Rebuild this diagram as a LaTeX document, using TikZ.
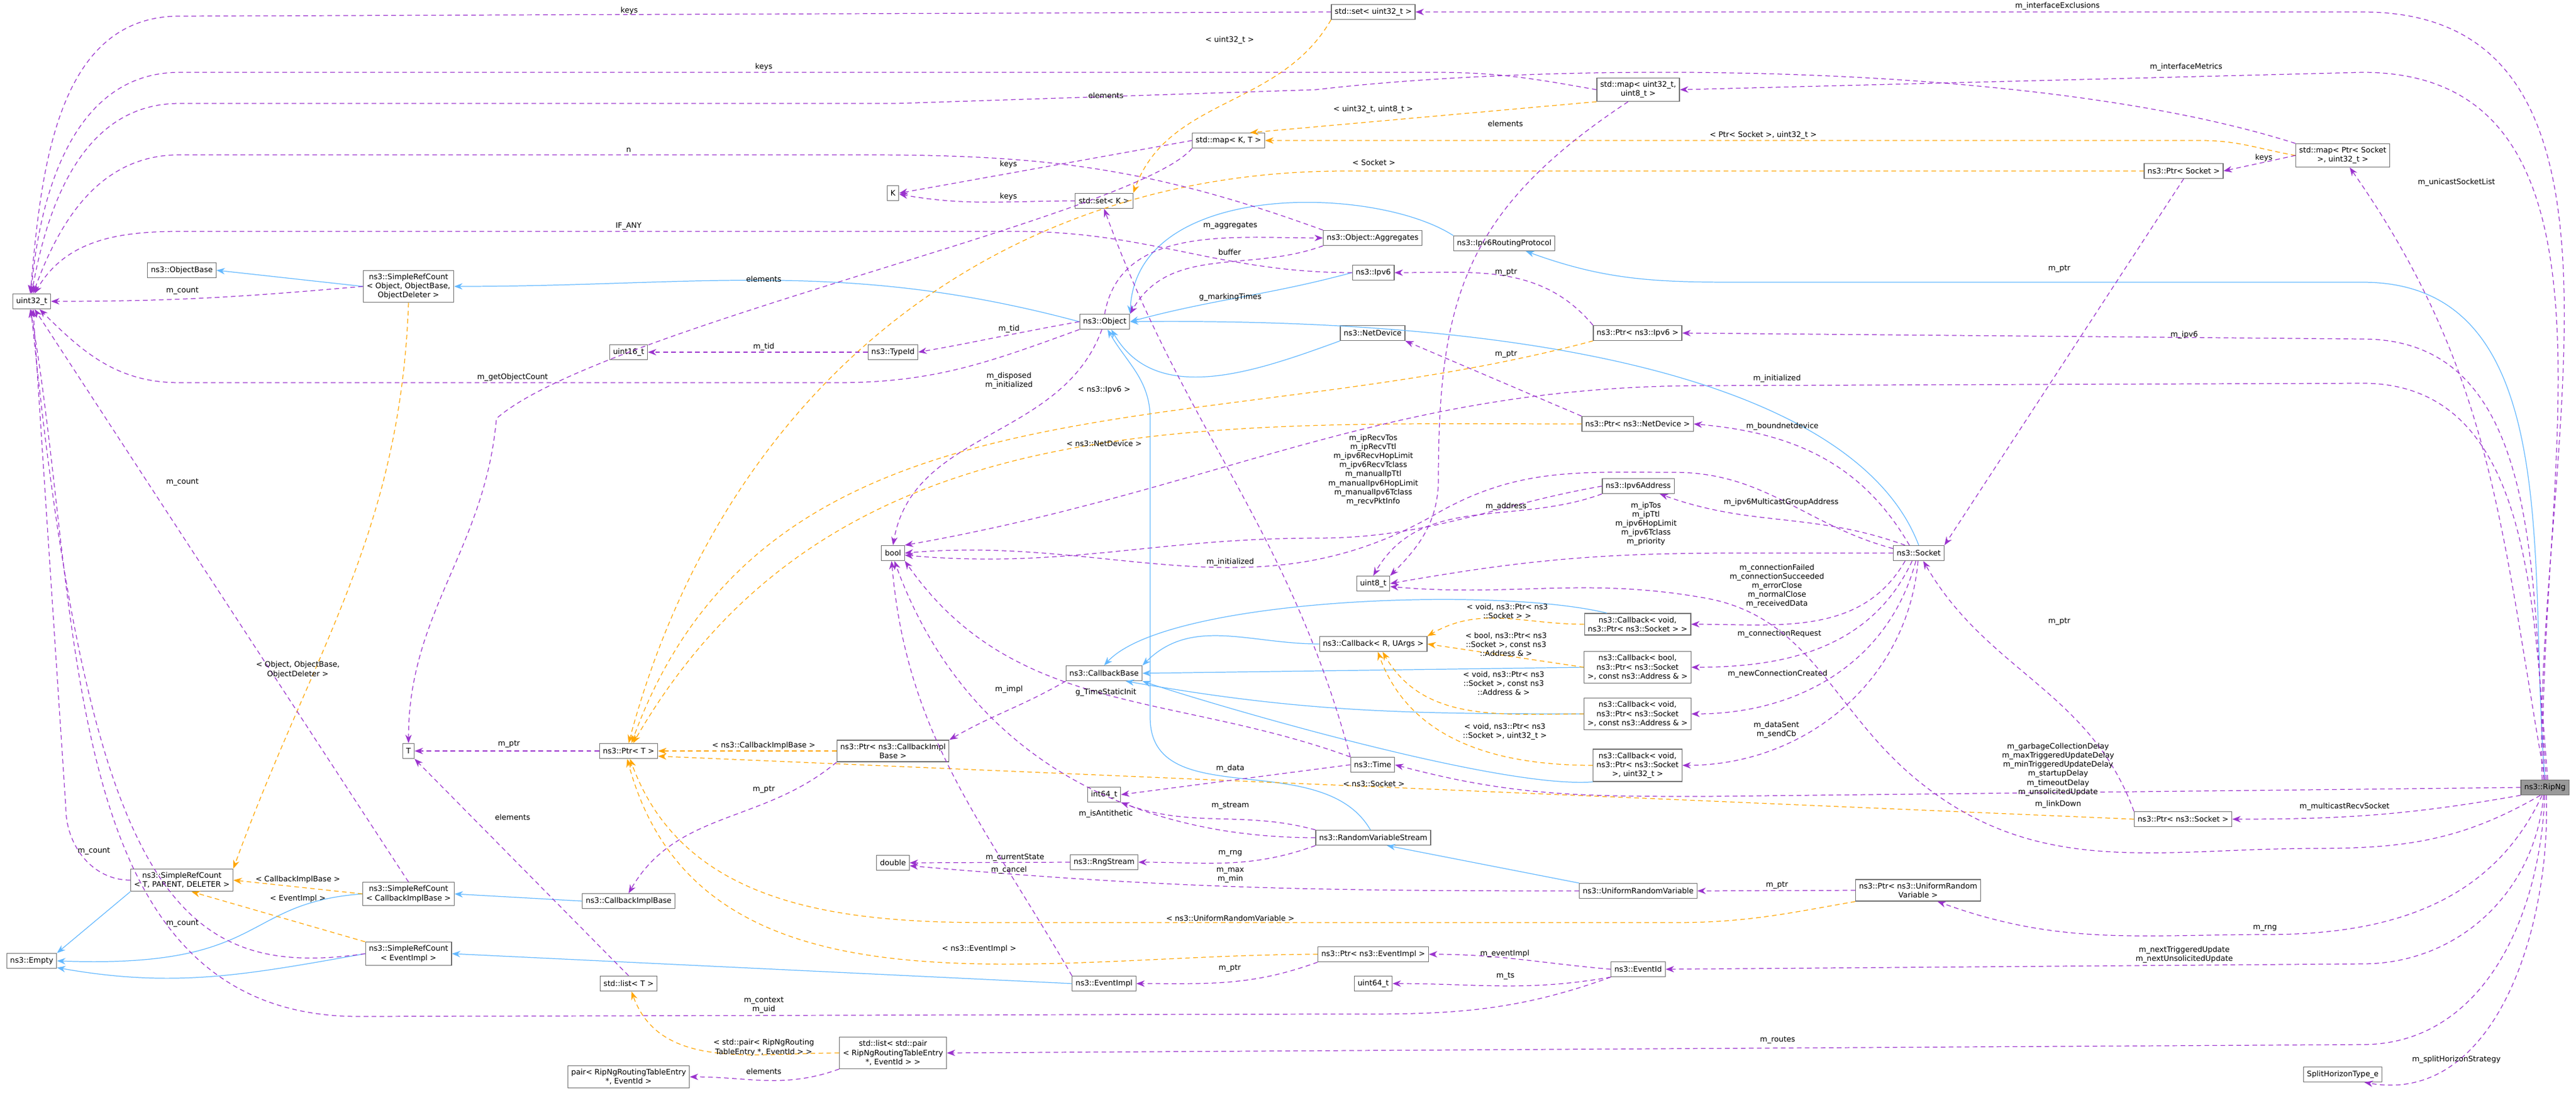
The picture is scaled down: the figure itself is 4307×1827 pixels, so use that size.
\documentclass[tikz,border=0pt]{standalone}
\usepackage{fontspec}
\setmainfont{DejaVu Sans}
\usetikzlibrary{arrows.meta}
\definecolor{purp}{RGB}{154,50,205}
\definecolor{inh}{RGB}{99,184,255}
\definecolor{tmpl}{RGB}{255,165,0}
\definecolor{boxgray}{RGB}{110,110,110}
\newcommand{\smallfont}{\fontsize{3.6}{4.3}\selectfont}
\newcommand{\elab}[3]{\node[lbl] (#1) at (#2) {#3};}
\tikzset{
  box/.style={draw=boxgray, fill=white, font=\smallfont, align=center, inner sep=1.6pt, minimum height=0.25cm, line width=0.35pt},
  lbl/.style={font=\smallfont, align=center, inner sep=0pt},
  mem/.style={draw=purp, dashed, dash pattern=on 2.2pt off 1.6pt, line width=0.35pt, -{Stealth[length=4pt,width=3pt]}},
  isa/.style={draw=inh, line width=0.35pt, -{Stealth[length=4pt,width=3pt]}},
  tpl/.style={draw=tmpl, dashed, dash pattern=on 2.2pt off 1.6pt, line width=0.35pt, -{Stealth[length=4pt,width=3pt]}},
}

\begin{document}
\begin{tikzpicture}[x=0.01cm,y=0.01cm]
  \useasboundingbox (0,0) rectangle (4307,-1827);
  % type boxes
  \node[box] (u32) at (53,-504) {uint32\_t};
  \node[box] (objbase) at (304,-452) {ns3::ObjectBase};
  \node[box] (srcobj) at (683,-479) {ns3::SimpleRefCount\\< Object, ObjectBase,\\ObjectDeleter >};
  \node[box] (u16) at (1051,-589) {uint16\_t};
  \node[box] (set32) at (2296,-20) {std::set< uint32\_t >};
  \node[box] (map328) at (2739,-150) {std::map< uint32\_t,\\uint8\_t >};
  \node[box] (mapkt) at (2054,-235) {std::map< K, T >};
  \node[box] (kk) at (1493,-323) {K};
  \node[box] (setk) at (1846,-336) {std::set< K >};
  \node[box] (aggr) at (2295,-398) {ns3::Object::Aggregates};
  \node[box] (i6rp) at (2515,-407) {ns3::Ipv6RoutingProtocol};
  \node[box] (ipv6) at (2296,-456) {ns3::Ipv6};
  \node[box] (obj) at (1847,-538) {ns3::Object};
  \node[box] (netdev) at (2295,-557) {ns3::NetDevice};
  \node[box] (ptripv6) at (2738,-557) {ns3::Ptr< ns3::Ipv6 >};
  \node[box] (typeid) at (1493,-589) {ns3::TypeId};
  \node[box] (ptrnd) at (2738,-709) {ns3::Ptr< ns3::NetDevice >};
  \node[box] (i6a) at (2739,-813) {ns3::Ipv6Address};
  \node[box] (boolt) at (1493,-925) {bool};
  \node[box] (mapps) at (3917,-260) {std::map< Ptr< Socket\\>, uint32\_t >};
  \node[box] (ptrsock) at (3651,-286) {ns3::Ptr< Socket >};
  \node[box] (sock) at (3208,-925) {ns3::Socket};
  \node[box, fill={rgb,255:red,153;green,153;blue,153}] (rip) at (4255,-1317) {ns3::RipNg};
  \node[box] (ptrsockb) at (3650,-1370) {ns3::Ptr< ns3::Socket >};
  \node[box] (ptrurv) at (3207,-1489) {ns3::Ptr< ns3::UniformRandom\\Variable >};
  \node[box] (split) at (3917,-1797) {SplitHorizonType\_e};
  \node[box] (u8) at (2296,-976) {uint8\_t};
  \node[box] (cbvoid) at (2738,-1044) {ns3::Callback< void,\\ns3::Ptr< ns3::Socket > >};
  \node[box] (cbru) at (2296,-1077) {ns3::Callback< R, UArgs >};
  \node[box] (cbase) at (1846,-1126) {ns3::CallbackBase};
  \node[box] (cbbool) at (2738,-1116) {ns3::Callback< bool,\\ns3::Ptr< ns3::Socket\\>, const ns3::Address \& >};
  \node[box] (cbaddr) at (2738,-1194) {ns3::Callback< void,\\ns3::Ptr< ns3::Socket\\>, const ns3::Address \& >};
  \node[box] (ptrcib) at (1493,-1256) {ns3::Ptr< ns3::CallbackImpl\\Base >};
  \node[box] (cbu32) at (2738,-1280) {ns3::Callback< void,\\ns3::Ptr< ns3::Socket\\>, uint32\_t >};
  \node[box] (time) at (2295,-1279) {ns3::Time};
  \node[box] (i64) at (1846,-1329) {int64\_t};
  \node[box] (rvs) at (2296,-1401) {ns3::RandomVariableStream};
  \node[box] (dbl) at (1493,-1443) {double};
  \node[box] (rng) at (1846,-1442) {ns3::RngStream};
  \node[box] (urv) at (2739,-1490) {ns3::UniformRandomVariable};
  \node[box] (ptrevt) at (2296,-1596) {ns3::Ptr< ns3::EventImpl >};
  \node[box] (evid) at (2739,-1621) {ns3::EventId};
  \node[box] (evimpl) at (1846,-1645) {ns3::EventImpl};
  \node[box] (u64) at (2296,-1645) {uint64\_t};
  \node[box] (listpair) at (1493,-1761) {std::list< std::pair\\< RipNgRoutingTableEntry\\*, EventId > >};
  \node[box] (tt) at (683,-1256) {T};
  \node[box] (ptrt) at (1051,-1256) {ns3::Ptr< T >};
  \node[box] (srctpd) at (304,-1472) {ns3::SimpleRefCount\\< T, PARENT, DELETER >};
  \node[box] (srccib) at (683,-1495) {ns3::SimpleRefCount\\< CallbackImplBase >};
  \node[box] (cib) at (1051,-1507) {ns3::CallbackImplBase};
  \node[box] (empty) at (53,-1607) {ns3::Empty};
  \node[box] (srcevt) at (683,-1595) {ns3::SimpleRefCount\\< EventImpl >};
  \node[box] (listt) at (1051,-1645) {std::list< T >};
  \node[box] (pairn) at (1051,-1801) {pair< RipNgRoutingTableEntry\\*, EventId >};

  % inheritance
  \draw[isa] (srcobj.west) -- (objbase.east);
  \draw[isa] (obj.west) to[out=165,in=0] (srcobj.east);
  \draw[isa] (ipv6.west) to[out=195,in=15] (obj.east);
  \draw[isa] (netdev.south west) to[out=200,in=-60] (obj.-50);
  \draw[isa] (i6rp.north west) .. controls (2300,-310) and (1900,-300) .. (obj.north east);
  \draw[isa] (sock.north) .. controls (3120,-680) and (2700,-530) .. (obj.east);
  \draw[isa] (rvs.110) to[out=120,in=-90] (1923,-1200) -- (1923,-700) to[out=90,in=-60] (obj.-70);
  \draw[isa] (rip.north) to[out=95,in=0] (3950,-472) -- (2900,-472) to[out=180,in=-20] (i6rp.-20);
  \draw[isa] (urv.north west) -- (rvs.-30);
  \draw[isa] (cbvoid.160) .. controls (2500,-980) and (1950,-1000) .. (cbase.north);
  \draw[isa] (cbru.west) to[out=180,in=45] (cbase.north east);
  \draw[isa] (cbbool.west) -- (cbase.east);
  \draw[isa] (cbaddr.west) to[out=180,in=-10] (cbase.-20);
  \draw[isa] (cbu32.south west) .. controls (2500,-1320) and (2000,-1170) .. (cbase.south east);
  \draw[isa] (cib.west) -- (srccib.east);
  \draw[isa] (srccib.west) .. controls (400,-1510) and (450,-1620) .. (empty.east);
  \draw[isa] (srctpd.south west) -- (empty.north east);
  \draw[isa] (srcevt.west) to[out=190,in=-10] (empty.-15);
  \draw[isa] (evimpl.west) -- (srcevt.east);

  % template instances
  \draw[tpl] (set32.south west) to[out=-120,in=70] (setk.north east);
  \draw[tpl] (map328.south west) -- (mapkt.20);
  \draw[tpl] (mapps.west) to[out=170,in=0] (3680,-235) -- (mapkt.east);
  \draw[tpl] (ptrsock.west) -- (2250,-286) to[out=180,in=75] (ptrt.north);
  \draw[tpl] (ptripv6.south west) to[out=195,in=70] (ptrt.70);
  \draw[tpl] (ptrnd.west) to[out=180,in=60] (ptrt.60);
  \draw[tpl] (ptrcib.west) -- (ptrt.east);
  \draw[tpl] (ptrsockb.west) -- (ptrt.-10);
  \draw[tpl] (ptrurv.south west) to[out=190,in=0] (2800,-1543) -- (1650,-1543) to[out=180,in=-70] (ptrt.-80);
  \draw[tpl] (ptrevt.west) to[out=180,in=-75] (ptrt.-100);
  \draw[tpl] (cbvoid.west) to[out=180,in=30] (cbru.north east);
  \draw[tpl] (cbbool.west) -- (cbru.east);
  \draw[tpl] (cbaddr.west) to[out=180,in=-60] (cbru.-40);
  \draw[tpl] (cbu32.west) to[out=180,in=-70] (cbru.-60);
  \draw[tpl] (srcobj.south) to[out=-92,in=70] (srctpd.north east);
  \draw[tpl] (srccib.west) -- (srctpd.east);
  \draw[tpl] (srcevt.north west) -- (srctpd.-50);
  \draw[tpl] (listpair.west) to[out=180,in=-70] (listt.-70);

  % members to uint32_t
  \draw[mem] (set32.west) -- (300,-27) to[out=180,in=85] (u32.100);
  \draw[mem] (map328.west) to[out=170,in=0] (2400,-121) -- (300,-121) to[out=180,in=85] (u32.95);
  \draw[mem] (mapps.north west) .. controls (3400,-100) and (2600,-103) .. (2200,-150) -- (1500,-173) -- (300,-173) to[out=180,in=80] (u32.90);
  \draw[mem] (aggr.north west) to[out=160,in=0] (1450,-259) -- (300,-259) to[out=180,in=70] (u32.80);
  \draw[mem] (ipv6.west) to[out=180,in=0] (1700,-387) -- (300,-387) to[out=180,in=60] (u32.70);
  \draw[mem] (srcobj.west) to[out=185,in=0] (u32.east);
  \draw[mem] (obj.south west) to[out=200,in=0] (1400,-640) -- (300,-640) to[out=180,in=-45] (u32.-45);
  \draw[mem] (srccib.north) -- (u32.-70);
  \draw[mem] (srctpd.west) to[out=180,in=-90] (110,-1350) -- (u32.-80);
  \draw[mem] (srcevt.west) .. controls (300,-1640) and (150,-1500) .. (u32.-95);
  \draw[mem] (evid.south west) to[out=200,in=0] (2200,-1696) -- (600,-1700) to[out=180,in=-80] (u32.-100);
  \elab{lkeys}{1052,-18}{keys}
  \elab{lkeysb}{1277,-112}{keys}
  \elab{lelem}{1849,-160}{elements}
  \elab{ln}{1051,-251}{n}
  \elab{lifany}{1051,-378}{IF\_ANY}
  \elab{lcnt}{305,-487}{m\_count}
  \elab{lgoc}{857,-631}{m\_getObjectCount}
  \elab{lcntb}{305,-807}{m\_count}
  \elab{lcntc}{157,-1424}{m\_count}
  \elab{lcntd}{305,-1545}{m\_count}
  \elab{lctx}{1277,-1681}{m\_context\\m\_uid}

  % std containers
  \draw[mem] (mapkt.west) -- (kk.east);
  \draw[mem] (setk.west) to[out=180,in=-10] (kk.-10);
  \draw[mem] (mapkt.south west) .. controls (1900,-360) and (1000,-550) .. (830,-700) to[out=-95,in=90] (tt.north);
  \draw[mem] (map328.-130) .. controls (2450,-350) and (2405,-500) .. (2405,-800) to[out=-90,in=45] (u8.north east);
  \draw[mem] (mapps.west) -- (ptrsock.east);
  \draw[mem] (listt.north) -- (tt.south east);
  \draw[mem] (ptrt.west) -- (tt.east);
  \draw[mem] (listpair.south west) to[out=200,in=0] (pairn.east);
  \elab{lu32}{2056,-67}{< uint32\_t >}
  \elab{lu328}{2296,-183}{< uint32\_t, uint8\_t >}
  \elab{lpsu}{2948,-226}{< Ptr< Socket >, uint32\_t >}
  \elab{lkk}{1686,-275}{keys}
  \elab{lkkb}{1686,-329}{keys}
  \elab{lel8}{2517,-207}{elements}
  \elab{lkps}{3785,-264}{keys}
  \elab{lsock}{2297,-272}{< Socket >}
  \elab{lelt}{1277,-467}{elements}
  \elab{lelt2}{857,-1367}{elements}
  \elab{lptrt}{851,-1245}{m\_ptr}
  \elab{lpair}{1277,-1752}{< std::pair< RipNgRouting\\TableEntry *, EventId > >}
  \elab{lelp}{1277,-1792}{elements}

  % object world
  \draw[mem] (obj.north) to[out=80,in=180] (aggr.west);
  \draw[mem] (aggr.south west) to[out=200,in=60] (obj.north east);
  \draw[mem] (obj.west) to[out=190,in=10] (typeid.east);
  \draw[mem] (typeid.west) -- (u16.east);
  \draw[mem] (obj.-110) to[out=-110,in=80] (boolt.north);
  \draw[mem] (ptripv6.north west) to[out=130,in=0] (ipv6.east);
  \draw[mem] (ptrnd.north west) -- (netdev.south east);
  \draw[mem] (time.north west) to[out=105,in=-70] (setk.south);
  \elab{lagg}{2057,-378}{m\_aggregates}
  \elab{lbuf}{2056,-422}{buffer}
  \elab{lgmt}{2057,-497}{g\_markingTimes}
  \elab{ltid}{1687,-550}{m\_tid}
  \elab{ltidb}{1277,-580}{m\_tid}
  \elab{ldisp}{1687,-637}{m\_disposed\\m\_initialized}
  \elab{lpi6}{2518,-456}{m\_ptr}
  \elab{lpnd}{2518,-593}{m\_ptr}
  \elab{lti6}{1846,-652}{< ns3::Ipv6 >}
  \elab{ltnd}{1846,-742}{< ns3::NetDevice >}

  % socket
  \draw[mem] (sock.140) to[out=120,in=-5] (ptrnd.east);
  \draw[mem] (sock.150) to[out=160,in=-20] (i6a.-20);
  \draw[mem] (sock.170) to[out=165,in=0] (2800,-790) to[out=180,in=30] (2400,-860) to[out=210,in=5] (boolt.east);
  \draw[mem] (sock.west) -- (2900,-925) to[out=180,in=10] (u8.east);
  \draw[mem] (i6a.west) to[out=190,in=0] (2200,-900) to[out=180,in=-5] (boolt.-10);
  \draw[mem] (i6a.south west) to[out=200,in=60] (u8.north);
  \draw[mem] (sock.-150) to[out=-120,in=0] (cbvoid.east);
  \draw[mem] (sock.-130) to[out=-115,in=0] (cbbool.east);
  \draw[mem] (sock.-110) to[out=-105,in=0] (cbaddr.east);
  \draw[mem] (sock.-95) to[out=-95,in=0] (cbu32.east);
  \draw[mem] (ptrsock.south) -- (sock.north east);
  \draw[mem] (ptrsockb.north west) to[out=110,in=-60] (sock.-60);
  \elab{lbnd}{2980,-713}{m\_boundnetdevice}
  \elab{lmga}{2978,-840}{m\_ipv6MulticastGroupAddress}
  \elab{lrecv}{2296,-786}{m\_ipRecvTos\\m\_ipRecvTtl\\m\_ipv6RecvHopLimit\\m\_ipv6RecvTclass\\m\_manualIpTtl\\m\_manualIpv6HopLimit\\m\_manualIpv6Tclass\\m\_recvPktInfo}
  \elab{ltos}{2752,-876}{m\_ipTos\\m\_ipTtl\\m\_ipv6HopLimit\\m\_ipv6Tclass\\m\_priority}
  \elab{linit}{2057,-940}{m\_initialized}
  \elab{laddr}{2518,-847}{m\_address}
  \elab{lconf}{2971,-980}{m\_connectionFailed\\m\_connectionSucceeded\\m\_errorClose\\m\_normalClose\\m\_receivedData}
  \elab{lconr}{2975,-1060}{m\_connectionRequest}
  \elab{lncc}{2972,-1127}{m\_newConnectionCreated}
  \elab{lsent}{2970,-1221}{m\_dataSent\\m\_sendCb}
  \elab{lpsk}{3443,-450}{m\_ptr}
  \elab{lpskb}{3443,-1040}{m\_ptr}

  % callbacks
  \draw[mem] (cbase.south west) to[out=-150,in=30] (ptrcib.north east);
  \draw[mem] (ptrcib.south west) to[out=-140,in=60] (cib.north);
  \elab{lcb1}{2520,-1022}{< void, ns3::Ptr< ns3\\::Socket > >}
  \elab{lcb2}{2518,-1078}{< bool, ns3::Ptr< ns3\\::Socket >, const ns3\\::Address \& >}
  \elab{lcb3}{2514,-1143}{< void, ns3::Ptr< ns3\\::Socket >, const ns3\\::Address \& >}
  \elab{lcb4}{2516,-1224}{< void, ns3::Ptr< ns3\\::Socket >, uint32\_t >}
  \elab{limpl}{1687,-1153}{m\_impl}
  \elab{ltcib}{1277,-1247}{< ns3::CallbackImplBase >}
  \elab{lpcib}{1277,-1321}{m\_ptr}
  \elab{lscib}{498,-1471}{< CallbackImplBase >}
  \elab{lsevt}{498,-1503}{< EventImpl >}
  \elab{lsobj}{498,-1120}{< Object, ObjectBase,\\ObjectDeleter >}

  % time, random, events
  \draw[mem] (time.north west) to[out=160,in=-55] (boolt.south east);
  \draw[mem] (time.west) -- (i64.east);
  \draw[mem] (rvs.north west) to[out=165,in=-20] (i64.south east);
  \draw[mem] (rvs.west) to[out=180,in=-70] (boolt.-80);
  \draw[mem] (rvs.south west) to[out=200,in=0] (rng.east);
  \draw[mem] (rng.west) -- (dbl.east);
  \draw[mem] (urv.west) to[out=180,in=-5] (dbl.-10);
  \draw[mem] (evimpl.north west) to[out=120,in=-85] (boolt.-100);
  \draw[mem] (ptrurv.west) -- (urv.east);
  \draw[mem] (ptrevt.south west) to[out=200,in=0] (evimpl.east);
  \draw[mem] (evid.west) to[out=175,in=0] (ptrevt.east);
  \draw[mem] (evid.south west) to[out=190,in=0] (u64.east);
  \elab{lgts}{1849,-1158}{g\_TimeStaticInit}
  \elab{ldata}{2057,-1285}{m\_data}
  \elab{lstrm}{2057,-1348}{m\_stream}
  \elab{lanti}{1849,-1361}{m\_isAntithetic}
  \elab{lrng}{2057,-1427}{m\_rng}
  \elab{lcur}{1697,-1434}{m\_currentState}
  \elab{lcan}{1687,-1455}{m\_cancel}
  \elab{lmax}{2057,-1464}{m\_max\\m\_min}
  \elab{lturv}{2057,-1536}{< ns3::UniformRandomVariable >}
  \elab{ltsk}{2297,-1311}{< ns3::Socket >}
  \elab{lpurv}{2971,-1481}{m\_ptr}
  \elab{ltevt}{1637,-1587}{< ns3::EventImpl >}
  \elab{lpevt}{2056,-1620}{m\_ptr}
  \elab{levi}{2516,-1595}{m\_eventImpl}
  \elab{lts}{2517,-1633}{m\_ts}

  % RipNg members
  \draw[mem] (rip.110) to[out=92,in=0] (3950,-20) -- (set32.east);
  \draw[mem] (rip.100) to[out=92,in=0] (3950,-121) -- (map328.east);
  \draw[mem] (rip.north) to[out=100,in=-55] (mapps.-60);
  \draw[mem] (rip.80) to[out=95,in=0] (3950,-567) -- (ptripv6.east);
  \draw[mem] (rip.70) to[out=95,in=0] (3950,-641) -- (2850,-645) to[out=180,in=10] (boolt.north east);
  \draw[mem] (rip.west) -- (2850,-1332) to[out=180,in=-15] (time.east);
  \draw[mem] (rip.-120) to[out=-150,in=0] (3870,-1419) to[out=180,in=-40] (3200,-1300) to[out=140,in=-10] (2850,-1000) to[out=170,in=-5] (u8.-10);
  \draw[mem] (rip.south west) to[out=190,in=0] (ptrsockb.east);
  \draw[mem] (rip.-110) to[out=-115,in=0] (3790,-1563) to[out=180,in=-20] (ptrurv.-30);
  \draw[mem] (rip.-100) to[out=-95,in=0] (3950,-1612) -- (evid.east);
  \draw[mem] (rip.-92) to[out=-92,in=0] (3950,-1747) -- (listpair.east);
  \draw[mem] (rip.-80) to[out=-88,in=-10] (split.-20);
  \elab{lexcl}{3440,-10}{m\_interfaceExclusions}
  \elab{lmetr}{3655,-112}{m\_interfaceMetrics}
  \elab{luni}{4107,-305}{m\_unicastSocketList}
  \elab{lipv6}{3652,-560}{m\_ipv6}
  \elab{linitr}{2971,-633}{m\_initialized}
  \elab{ldelay}{3441,-1287}{m\_garbageCollectionDelay\\m\_maxTriggeredUpdateDelay\\m\_minTriggeredUpdateDelay\\m\_startupDelay\\m\_timeoutDelay\\m\_unsolicitedUpdate}
  \elab{llink}{3441,-1345}{m\_linkDown}
  \elab{lmrs}{3920,-1349}{m\_multicastRecvSocket}
  \elab{lrngr}{3787,-1552}{m\_rng}
  \elab{lnext}{3652,-1597}{m\_nextTriggeredUpdate\\m\_nextUnsolicitedUpdate}
  \elab{lroutes}{2972,-1740}{m\_routes}
  \elab{lsplit}{4107,-1772}{m\_splitHorizonStrategy}
\end{tikzpicture}
\end{document}
